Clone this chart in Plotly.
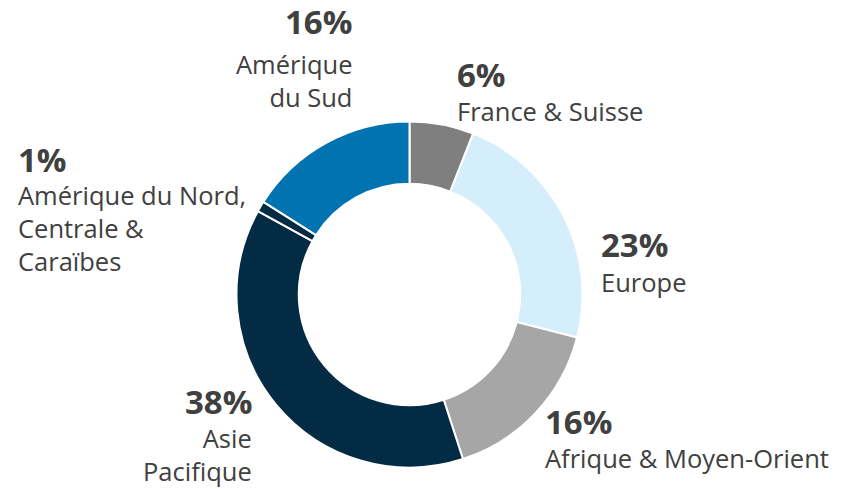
import plotly.graph_objects as go

W, H = 844, 489
OFF = 8  # the page body adds an 8px margin

regions = [
    "France & Suisse",
    "Europe",
    "Afrique & Moyen-Orient",
    "Asie Pacifique",
    "Amérique du Nord, Centrale & Caraïbes",
    "Amérique du Sud",
]
shares = [6, 23, 16, 38, 1, 16]
colors = ["#7f7f7f", "#d4eefb", "#a6a6a6", "#032b44", "#032b44", "#0073b0"]
label_lines = [
    "France & Suisse",
    "Europe",
    "Afrique & Moyen-Orient",
    "Asie<br>Pacifique",
    "Amérique du Nord,<br>Centrale &<br>Caraïbes",
    "Amérique<br>du Sud",
]

# label placement in pixels: (x, anchor, pct centre y, name centre y)
label_pos = [
    (455, "left", 74, 111),
    (599, "left", 244, 282),
    (543, "left", 421, 458),
    (254, "right", 401, 454),
    (16, "left", 159, 228),
    (354, "right", 21, 80),
]

TEXT = "#404040"
FONT = "Open Sans, Noto Sans, sans-serif"

cx, cy, r = 409.5 - OFF, 294.5 - OFF, 173

fig = go.Figure(
    go.Pie(
        labels=regions,
        values=shares,
        sort=False,
        direction="clockwise",
        rotation=0,
        hole=0.64,
        marker={"colors": colors, "line": {"color": "white", "width": 2}},
        textinfo="none",
        hoverinfo="label+percent",
        domain={"x": [(cx - r) / W, (cx + r) / W], "y": [(H - cy - r) / H, (H - cy + r) / H]},
    )
)

for share, name, (x, anchor, py, ny) in zip(shares, label_lines, label_pos):
    x, py, ny = x - OFF, py - OFF, ny - OFF
    fig.add_annotation(
        text=f"<b>{share}%</b>", x=x / W, y=1 - py / H, xref="paper", yref="paper",
        xanchor=anchor, yanchor="middle", showarrow=False, align=anchor,
        font={"family": FONT, "size": 33, "color": TEXT},
    )
    fig.add_annotation(
        text=name, x=x / W, y=1 - ny / H, xref="paper", yref="paper",
        xanchor=anchor, yanchor="middle", showarrow=False, align=anchor,
        font={"family": FONT, "size": 25.5, "color": TEXT},
    )

fig.update_layout(
    width=W, height=H,
    margin={"l": 0, "r": 0, "t": 0, "b": 0},
    paper_bgcolor="white", plot_bgcolor="white",
    showlegend=False,
)

fig.write_html("out.html")
